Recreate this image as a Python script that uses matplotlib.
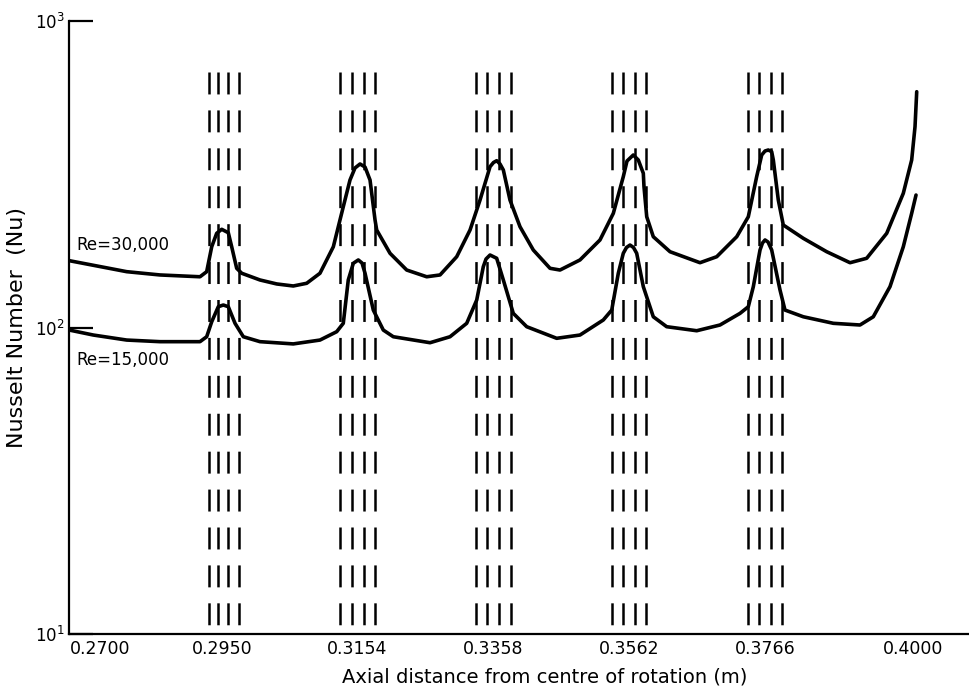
import numpy as np
import matplotlib
matplotlib.use('Agg')
import matplotlib.pyplot as plt
from matplotlib.ticker import FixedLocator, FixedFormatter, NullLocator

plt.rcParams['lines.scale_dashes'] = False
plt.rcParams['font.family'] = ['DejaVu Sans']

# axial positions of the tick labels (m)
tick_vals = [0.2700, 0.2950, 0.3154, 0.3358, 0.3562, 0.3766, 0.4000]
tick_labels = ['0.2700', '0.2950', '0.3154', '0.3358', '0.3562', '0.3766', '0.4000']

# rib groups: centre of each group and the four rib edges around it
rib_centres = [0.2950, 0.3154, 0.3358, 0.3562, 0.3766]
rib_offsets = [-0.0026, -0.0009, 0.0009, 0.0026]

# Re = 30,000
x_30k = [0.26371, 0.27547, 0.28229, 0.29049, 0.29186, 0.29289, 0.29391, 0.29494,
         0.29595, 0.29646, 0.29721, 0.29797, 0.30072, 0.30324, 0.30573, 0.30775,
         0.30975, 0.31176, 0.31326, 0.31427, 0.31502, 0.31578, 0.31653, 0.31728,
         0.31803, 0.31828, 0.32028, 0.32278, 0.32578, 0.32778, 0.33028, 0.33228,
         0.33378, 0.33528, 0.33580, 0.33628, 0.33678, 0.33728, 0.33828, 0.33979,
         0.34179, 0.34431, 0.34581, 0.34882, 0.35183, 0.35384, 0.35534, 0.35590,
         0.35684, 0.35759, 0.35834, 0.35844, 0.35885, 0.35983, 0.36233, 0.36681,
         0.36931, 0.37230, 0.37403, 0.37528, 0.37603, 0.37653, 0.37704, 0.37758,
         0.37784, 0.37863, 0.37942, 0.38260, 0.38631, 0.39001, 0.39265, 0.39583,
         0.39846, 0.39979, 0.40032, 0.40059]
nu_30k = [165.2, 152.1, 148.4, 146.4, 152.1, 183.4, 202.9, 209.1,
          203.8, 183.4, 156.0, 150.3, 142.9, 138.7, 136.6, 139.4,
          150.3, 183.4, 247.8, 302.8, 331.4, 341.6, 333.8, 302.8,
          224.3, 208.0, 174.6, 154.0, 146.4, 148.4, 170.2, 208.0,
          260.6, 334.7, 345.4, 350.1, 341.6, 326.5, 260.6, 213.2,
          179.0, 156.0, 154.0, 166.1, 193.0, 235.8, 310.5, 349.3,
          365.4, 352.0, 318.5, 288.0, 229.8, 197.8, 176.7, 162.7,
          170.2, 197.8, 229.8, 310.5, 365.4, 376.6, 379.4, 374.6,
          352.0, 260.6, 216.0, 195.4, 176.7, 162.7, 168.2, 202.9,
          274.0, 352.0, 451.9, 587.9]

# Re = 15,000
x_15k = [0.26371, 0.26863, 0.27547, 0.28229, 0.29049, 0.29186, 0.29289, 0.29424,
         0.29520, 0.29595, 0.29696, 0.29821, 0.30072, 0.30573, 0.30975, 0.31227,
         0.31326, 0.31401, 0.31477, 0.31552, 0.31608, 0.31653, 0.31777, 0.31927,
         0.32077, 0.32628, 0.32928, 0.33178, 0.33328, 0.33427, 0.33468, 0.33528,
         0.33628, 0.33728, 0.33878, 0.34080, 0.34531, 0.34882, 0.35233, 0.35360,
         0.35459, 0.35534, 0.35582, 0.35635, 0.35687, 0.35735, 0.35834, 0.35983,
         0.36183, 0.36632, 0.36980, 0.37279, 0.37403, 0.37478, 0.37578, 0.37615,
         0.37653, 0.37700, 0.37758, 0.37890, 0.37969, 0.38260, 0.38736, 0.39159,
         0.39370, 0.39635, 0.39846, 0.39979, 0.40048]
nu_15k = [98.1, 94.5, 91.0, 89.9, 89.9, 93.3, 104.4, 116.9,
          118.4, 116.9, 103.2, 93.3, 89.9, 88.4, 91.0, 96.9,
          103.2, 142.9, 162.0, 166.1, 162.3, 150.3, 114.0, 98.1,
          93.3, 89.2, 93.3, 103.2, 122.9, 157.9, 167.3, 172.4,
          168.2, 142.9, 111.2, 100.6, 92.2, 94.5, 105.8, 114.0,
          150.3, 174.6, 182.4, 185.8, 182.4, 174.6, 135.9, 108.4,
          100.6, 97.6, 101.9, 111.2, 116.9, 135.9, 179.0, 188.7,
          193.0, 190.1, 179.0, 132.6, 114.0, 108.4, 103.2, 101.9,
          108.4, 135.9, 183.4, 235.8, 270.5]

# the drawing is not to a linear scale along x: piecewise map metres -> drawing units
scale_m = [0.2600, 0.2700, 0.2950, 0.3154, 0.3358, 0.3562, 0.3766, 0.4000, 0.4120]
scale_u = [51.2, 100, 222, 357.5, 493.5, 629, 765.5, 913, 988.6]


def fwd(x):
    return np.interp(x, scale_m, scale_u)


def inv(u):
    return np.interp(u, scale_u, scale_m)


fig = plt.figure(figsize=(9.7, 6.91), dpi=100)
ax = fig.add_axes([69 / 970, 57 / 691, 901 / 970, 613 / 691])
ax.set_xscale('function', functions=(fwd, inv))
ax.set_yscale('log')
ax.set_xlim(float(inv(69)), float(inv(970)))
ax.set_ylim(10, 1000)

# ribs
rib_x = [c + o for c in rib_centres for o in rib_offsets]
ax.vlines(rib_x, 680, 10, colors='black', linewidth=1.8,
          linestyles=[(0, (15.8, 11.5))])

ax.plot(x_30k, nu_30k, color='black', lw=2.6, solid_joinstyle='round',
        solid_capstyle='round')
ax.plot(x_15k, nu_15k, color='black', lw=2.6, solid_joinstyle='round',
        solid_capstyle='round')

ax.text(0.0078, 0.634, 'Re=30,000', transform=ax.transAxes, fontsize=12,
        ha='left', va='center')
ax.text(0.0078, 0.447, 'Re=15,000', transform=ax.transAxes, fontsize=12,
        ha='left', va='center')

# axes styling
for s in ['top', 'right']:
    ax.spines[s].set_visible(False)
for s in ['left', 'bottom']:
    ax.spines[s].set_linewidth(1.6)

ax.xaxis.set_major_locator(FixedLocator(tick_vals))
ax.xaxis.set_major_formatter(FixedFormatter(tick_labels))
ax.xaxis.set_minor_locator(FixedLocator([0.4000]))
ax.tick_params(axis='x', which='major', length=0, pad=4.5, labelsize=12.5)
ax.tick_params(axis='x', which='minor', direction='in', length=11, width=1.6)

ax.set_yticks([10, 100, 1000])
ax.yaxis.set_minor_locator(NullLocator())
ax.tick_params(axis='y', direction='in', length=17, width=1.6, pad=3,
               labelsize=12)

ax.set_xlabel('Axial distance from centre of rotation (m)', fontsize=14)
ax.xaxis.set_label_coords(0.528, -0.054)
ax.set_ylabel('Nusselt Number  (Nu)', fontsize=16)
ax.yaxis.set_label_coords(-0.047, 0.5)

fig.savefig('out.png', dpi=100)
